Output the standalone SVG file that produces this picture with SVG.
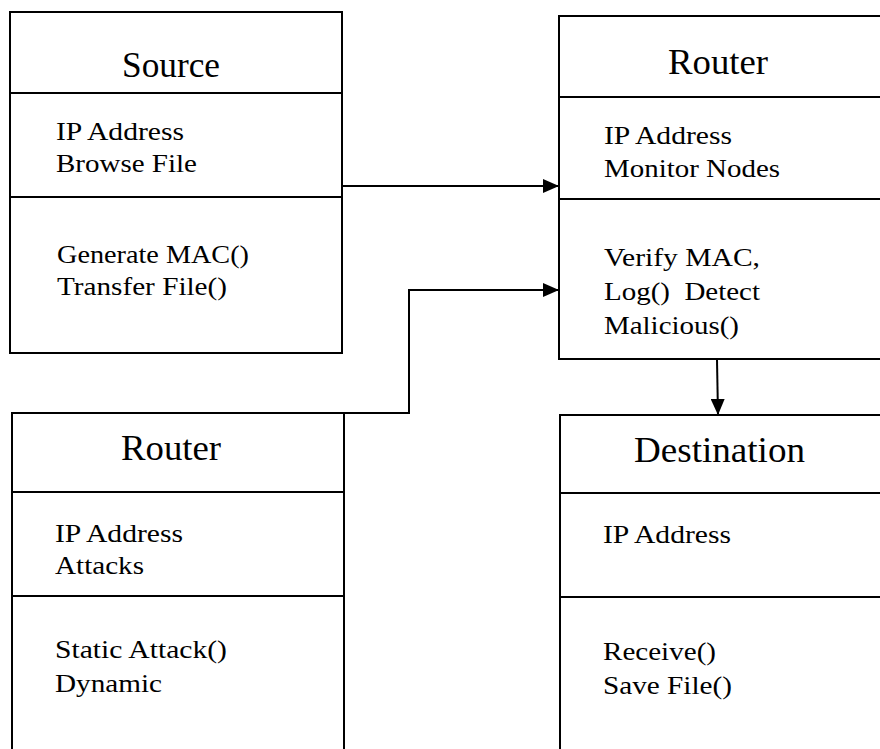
<svg xmlns="http://www.w3.org/2000/svg" width="880" height="749" viewBox="0 0 880 749">
<defs>
<style>
.box{fill:#fff;stroke:#000;stroke-width:2}
.ln{stroke:#000;stroke-width:2;fill:none}
.t{font-family:"Liberation Serif","Times New Roman",serif;font-size:36px;fill:#000}
.b{font-family:"Liberation Serif","Times New Roman",serif;font-size:26px;fill:#000}
</style>
<marker id="ah" markerWidth="16" markerHeight="14" refX="16" refY="7" orient="auto" markerUnits="userSpaceOnUse">
<path d="M0,0 L16,7 L0,14 Z" fill="#000"/>
</marker>
</defs>
<g id="source">
<rect class="box" x="10" y="12" width="332" height="341"/>
<line class="ln" x1="10" y1="93" x2="342" y2="93"/>
<line class="ln" x1="10" y1="197" x2="342" y2="197"/>
<text class="t" x="122" y="77" textLength="98" lengthAdjust="spacingAndGlyphs">Source</text>
<text class="b" x="56" y="140" textLength="128" lengthAdjust="spacingAndGlyphs">IP Address</text>
<text class="b" x="56" y="172" textLength="141" lengthAdjust="spacingAndGlyphs">Browse File</text>
<text class="b" x="57" y="263" textLength="192" lengthAdjust="spacingAndGlyphs">Generate MAC()</text>
<text class="b" x="57" y="295" textLength="170" lengthAdjust="spacingAndGlyphs">Transfer File()</text>
</g>
<g id="router-top">
<path class="ln" d="M880,16 L559,16 L559,359 L880,359"/>
<line class="ln" x1="559" y1="97" x2="880" y2="97"/>
<line class="ln" x1="559" y1="199" x2="880" y2="199"/>
<text class="t" x="668" y="74" textLength="100" lengthAdjust="spacingAndGlyphs">Router</text>
<text class="b" x="604" y="144" textLength="128" lengthAdjust="spacingAndGlyphs">IP Address</text>
<text class="b" x="604" y="177" textLength="176" lengthAdjust="spacingAndGlyphs">Monitor Nodes</text>
<text class="b" x="604" y="266" textLength="156" lengthAdjust="spacingAndGlyphs">Verify MAC,</text>
<text class="b" x="604" y="300" textLength="156" lengthAdjust="spacingAndGlyphs" xml:space="preserve">Log()  Detect</text>
<text class="b" x="604" y="334" textLength="135" lengthAdjust="spacingAndGlyphs">Malicious()</text>
</g>
<g id="router-bottom">
<path class="ln" d="M12,749 L12,413 L344,413 L344,749"/>
<line class="ln" x1="12" y1="492" x2="344" y2="492"/>
<line class="ln" x1="12" y1="596" x2="344" y2="596"/>
<text class="t" x="121" y="460" textLength="100" lengthAdjust="spacingAndGlyphs">Router</text>
<text class="b" x="55" y="542" textLength="128" lengthAdjust="spacingAndGlyphs">IP Address</text>
<text class="b" x="55" y="574" textLength="89" lengthAdjust="spacingAndGlyphs">Attacks</text>
<text class="b" x="55" y="658" textLength="172" lengthAdjust="spacingAndGlyphs">Static Attack()</text>
<text class="b" x="55" y="692" textLength="107" lengthAdjust="spacingAndGlyphs">Dynamic</text>
</g>
<g id="destination">
<path class="ln" d="M560,749 L560,415 L880,415"/>
<line class="ln" x1="560" y1="493" x2="880" y2="493"/>
<line class="ln" x1="560" y1="597" x2="880" y2="597"/>
<text class="t" x="634" y="462" textLength="171" lengthAdjust="spacingAndGlyphs">Destination</text>
<text class="b" x="603" y="543" textLength="128" lengthAdjust="spacingAndGlyphs">IP Address</text>
<text class="b" x="603" y="660" textLength="113" lengthAdjust="spacingAndGlyphs">Receive()</text>
<text class="b" x="603" y="694" textLength="129" lengthAdjust="spacingAndGlyphs">Save File()</text>
</g>
<g id="connectors">
<line class="ln" x1="343" y1="186" x2="559" y2="186" marker-end="url(#ah)"/>
<path class="ln" d="M344,413 L409,413 L409,290 L559,290" marker-end="url(#ah)"/>
<line class="ln" x1="717" y1="360" x2="718" y2="415" marker-end="url(#ah)"/>
</g>
</svg>
